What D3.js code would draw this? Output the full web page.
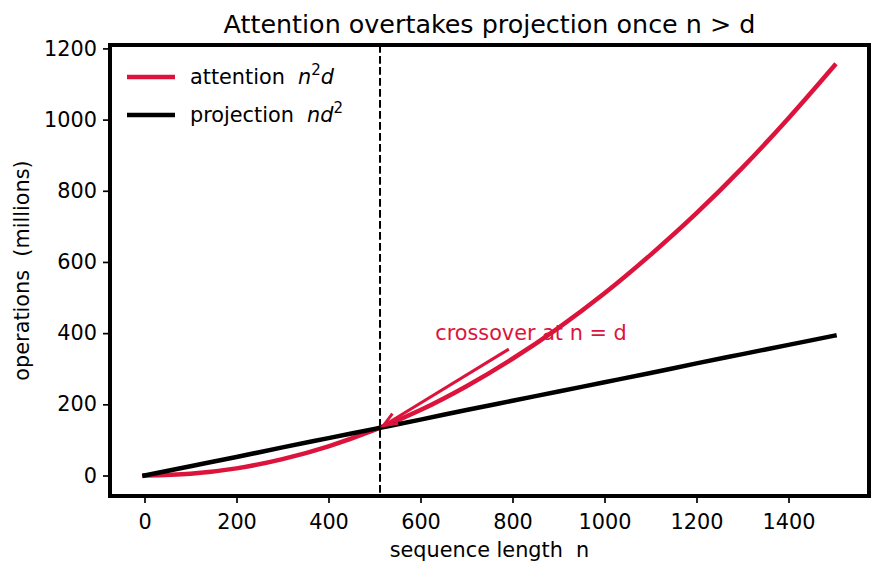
<!DOCTYPE html>
<html>
<head>
<meta charset="utf-8">
<script src="https://cdn.jsdelivr.net/npm/d3@7"></script>
<style>
  body { margin: 0; background: #fff; }
  svg { font-family: "DejaVu Sans", sans-serif; }
</style>
</head>
<body>
<div id="chart-area"></div>
<script>
// sequence lengths (n), d = 512
var seqLen = [0, 100, 200, 300, 400, 500, 600, 700, 800, 900, 1000, 1100, 1200, 1300, 1400, 1500];
// attention cost n^2 d, millions of ops
var attention = [0, 5, 20, 46, 82, 128, 184, 251, 328, 415, 512, 620, 737, 865, 1004, 1152];
// projection cost n d^2, millions of ops
var projection = [0, 26, 52, 79, 105, 131, 157, 184, 210, 236, 262, 288, 315, 341, 367, 393];
var xTicks = [0, 200, 400, 600, 800, 1000, 1200, 1400];
var yTicks = [0, 200, 400, 600, 800, 1000, 1200];
var crossover = 512;
var crossoverOps = 134;
var noteText = "crossover at n = d";
var notePos = [632, 380];

var width = 883, height = 573;
var plot = { left: 110, right: 869, top: 45, bottom: 496 };
var crimson = "#dc143c";

var svg = d3.select("#chart-area")
  .append("svg")
    .attr("width", width)
    .attr("height", height);

// X Scale (matplotlib style 5% margins)
var x = d3.scaleLinear()
  .domain([-75, 1575])
  .range([plot.left, plot.right]);

// Y Scale
var y = d3.scaleLinear()
  .domain([-57.6, 1209.6])
  .range([plot.bottom, plot.top]);

var g = svg.append("g");

// Axes
var xAxis = g.append("g")
  .attr("transform", "translate(0," + plot.bottom + ")")
  .call(d3.axisBottom(x).tickValues(xTicks).tickSize(7).tickPadding(6).tickFormat(d3.format("d")));

var yAxis = g.append("g")
  .attr("transform", "translate(" + plot.left + ",0)")
  .call(d3.axisLeft(y).tickValues(yTicks).tickSize(7).tickPadding(6).tickFormat(d3.format("d")));

[xAxis, yAxis].forEach(function(ax) {
  ax.select(".domain").remove();
  ax.selectAll(".tick line").attr("stroke", "#000").attr("stroke-width", 1.7);
  ax.selectAll(".tick text")
    .attr("fill", "#000")
    .attr("font-size", "20.8px")
    .attr("font-family", "DejaVu Sans");
});
xAxis.selectAll(".tick text").attr("dy", "0.95em");

// Crossover marker
g.append("line")
  .attr("x1", x(crossover)).attr("x2", x(crossover))
  .attr("y1", plot.top).attr("y2", plot.bottom)
  .attr("stroke", "#000")
  .attr("stroke-width", 2)
  .attr("stroke-dasharray", "7.7,3.3");

var line = function(vals) {
  return d3.line()
    .x(function(d, i) { return x(seqLen[i]); })
    .y(function(d) { return y(d); })
    .curve(d3.curveCatmullRom)(vals);
};

g.append("path")
  .attr("d", line(attention))
  .attr("fill", "none")
  .attr("stroke", crimson)
  .attr("stroke-width", 4.5)
  .attr("stroke-linecap", "square");

g.append("path")
  .attr("d", line(projection))
  .attr("fill", "none")
  .attr("stroke", "#000")
  .attr("stroke-width", 4.5)
  .attr("stroke-linecap", "square");

// Annotation
g.append("text")
  .attr("x", x(notePos[0]))
  .attr("y", y(notePos[1]))
  .attr("fill", crimson)
  .attr("font-size", "20.8px")
  .text(noteText);

var ax0 = x(notePos[0] + 160), ay0 = y(notePos[1] - 25);
var ax1 = x(crossover), ay1 = y(crossoverOps);
var ang = Math.atan2(ay1 - ay0, ax1 - ax0);
var tipX = ax1 - Math.cos(ang) * 4, tipY = ay1 - Math.sin(ang) * 4;
g.append("line")
  .attr("x1", ax0).attr("y1", ay0)
  .attr("x2", tipX).attr("y2", tipY)
  .attr("stroke", crimson)
  .attr("stroke-width", 3);
var headLen = 15, spread = 0.38;
g.append("path")
  .attr("d", "M" + (tipX - headLen * Math.cos(ang - spread)) + "," + (tipY - headLen * Math.sin(ang - spread)) +
    "L" + tipX + "," + tipY +
    "L" + (tipX - headLen * Math.cos(ang + spread)) + "," + (tipY - headLen * Math.sin(ang + spread)))
  .attr("fill", "none")
  .attr("stroke", crimson)
  .attr("stroke-width", 3);

// Frame
g.append("rect")
  .attr("x", plot.left).attr("y", plot.top)
  .attr("width", plot.right - plot.left)
  .attr("height", plot.bottom - plot.top)
  .attr("fill", "none")
  .attr("stroke", "#000")
  .attr("stroke-width", 4);

// Legend
var legend = g.append("g");
var legendItems = [
  { color: crimson, label: "attention  ", base: "n", sup: "2", tail: "d" },
  { color: "#000", label: "projection  ", base: "nd", sup: "2", tail: "" }
];
legendItems.forEach(function(item, i) {
  var ly = 77 + i * 38;
  legend.append("line")
    .attr("x1", 127).attr("x2", 175)
    .attr("y1", ly).attr("y2", ly)
    .attr("stroke", item.color)
    .attr("stroke-width", 4.5);
  var t = legend.append("text")
    .attr("x", 190).attr("y", ly + 7)
    .attr("font-size", "20.8px")
    .attr("fill", "#000")
    .attr("xml:space", "preserve");
  t.append("tspan").text(item.label);
  t.append("tspan").attr("font-style", "italic").text(item.base);
  t.append("tspan").attr("font-size", "15px").attr("dy", "-9").text(item.sup);
  if (item.tail) t.append("tspan").attr("font-style", "italic").attr("dy", "9").text(item.tail);
});

// Title
svg.append("text")
  .attr("x", (plot.left + plot.right) / 2)
  .attr("y", 33)
  .attr("text-anchor", "middle")
  .attr("font-size", "25.4px")
  .text("Attention overtakes projection once n > d");

// X Label
svg.append("text")
  .attr("x", (plot.left + plot.right) / 2)
  .attr("y", 557)
  .attr("text-anchor", "middle")
  .attr("font-size", "20.8px")
  .attr("xml:space", "preserve")
  .text("sequence length  n");

// Y Label
svg.append("text")
  .attr("transform", "translate(29," + (plot.top + plot.bottom) / 2 + ") rotate(-90)")
  .attr("text-anchor", "middle")
  .attr("font-size", "20.8px")
  .attr("xml:space", "preserve")
  .text("operations  (millions)");
</script>
</body>
</html>
